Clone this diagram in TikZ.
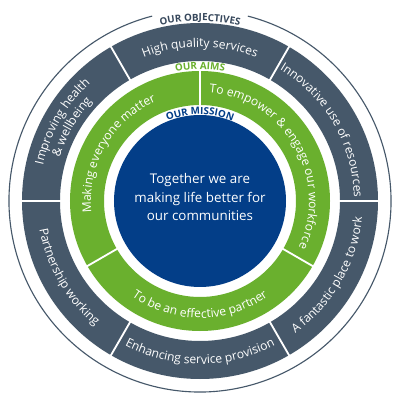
\documentclass[tikz,border=0pt]{standalone}
\usepackage{fontspec}
\setmainfont{Open Sans}
\usetikzlibrary{decorations.text}

\definecolor{objgray}{RGB}{70,88,106}
\definecolor{objtext}{RGB}{55,72,92}
\definecolor{aimgreen}{RGB}{106,176,46}
\definecolor{misblue}{RGB}{3,62,136}

\begin{document}
\begin{tikzpicture}[
    x=0.025cm, y=0.025cm,
    sep/.style={draw=white, line width=1.3pt},
    segtext/.style={decorate, decoration={text along path, text align=center,
        text color=white, text={|\fontsize{8.6}{10}\selectfont|#1}}},
    headtext/.style 2 args={decorate, decoration={text along path, text align=center,
        text color=#1, text={|\fontsize{7}{8}\selectfont\bfseries|#2}}}
]

\fill[white] (-200,-199) rectangle (200,201);
\useasboundingbox (-200,-199) rectangle (200,201);

% outer rim with gap for the heading
\draw[objgray, line width=0.8pt] (104.5:191) arc (104.5:435.5:191);

% objectives ring
\fill[objgray, even odd rule] (0,0) circle (178) (0,0) circle (140);
\foreach \a in {0,60,...,300} {
  \draw[sep] (\a:139) -- (\a:179);
}

% aims ring
\fill[aimgreen, even odd rule] (0,0) circle (130) (0,0) circle (96);
\foreach \a in {90,210,330} {
  \draw[sep] (\a:95) -- (\a:131);
}

% mission
\fill[misblue] (0,0) circle (86);
\node[align=center, text=white, font=\fontsize{9.5}{13.5}\selectfont] (mission) at (0,4)
  {Together we are\\making life better for\\our communities};

% headings
\path[headtext={objtext}{OUR OBJECTIVES}] (120:180) arc (120:60:180);
\path[headtext={aimgreen}{OUR AIMS}] (120:131.5) arc (120:60:131.5);
\path[headtext={misblue}{OUR MISSION}] (120:86.5) arc (120:60:86.5);

% objectives
\path[segtext={High quality services}] (120:154) arc (120:60:154);
\path[segtext={Innovative use of resources}] (60:154) arc (60:0:154);
\path[segtext={Improving health}] (180:161) arc (180:120:161);
\path[segtext={{\&} wellbeing}] (180:147) arc (180:120:147);
\path[segtext={Partnership working}] (180:163) arc (180:240:163);
\path[segtext={Enhancing service provision}] (240:163) arc (240:300:163);
\path[segtext={A fantastic place to work}] (300:163) arc (300:360:163);

% aims
\path[segtext={Making everyone matter}] (210:109) arc (210:90:109);
\path[segtext={To empower {\&} engage our workforce}] (90:109) arc (90:-30:109);
\path[segtext={To be an effective partner}] (210:117) arc (210:330:117);

\end{tikzpicture}
\end{document}
